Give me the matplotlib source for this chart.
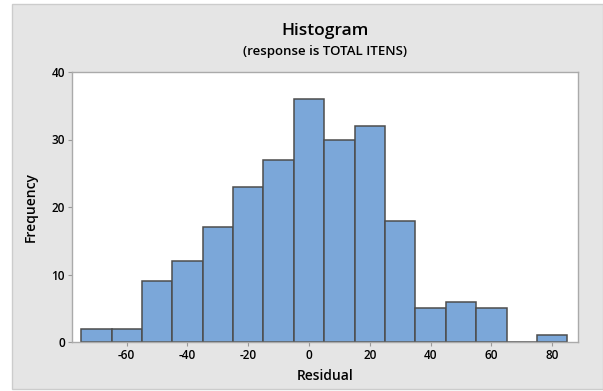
import numpy as np
import matplotlib.pyplot as plt
from matplotlib.patches import Rectangle

plt.rcParams['font.family'] = ['Open Sans', 'DejaVu Sans']
plt.rcParams['axes.unicode_minus'] = False

# bin centres (width 10) and counts
centres = [-70, -60, -50, -40, -30, -20, -10, 0, 10, 20, 30, 40, 50, 60, 70, 80]
counts = [2, 2, 9, 12, 17, 23, 27, 36, 30, 32, 18, 5, 6, 5, 0, 1]
xticks = [-60, -40, -20, 0, 20, 40, 60, 80]
yticks = [0, 10, 20, 30, 40]

fig = plt.figure(figsize=(6.03, 3.91), dpi=100)
fig.patch.set_facecolor('white')
W, H = 603, 391
fig.patches.append(Rectangle((12 / W, 1 - 389 / H), 1 - 12 / W, (389 - 4) / H,
                             transform=fig.transFigure, facecolor='#e5e5e5',
                             edgecolor='#cccccc', linewidth=1, zorder=-5))

ax = fig.add_axes([72 / W, 1 - 342 / H, (578 - 72) / W, (342 - 72) / H])
ax.set_zorder(1)
ax.set_facecolor('white')
ax.bar(centres, counts, width=10, color='#7ba7d9', edgecolor='#4d4d4d', linewidth=1.1)

ax.set_xlim(-78, 88.5)
ax.set_ylim(0, 40)
ax.set_xticks(xticks)
ax.set_yticks(yticks)
ax.tick_params(labelsize=8.5, length=3, width=0.8, color='#999999', pad=2)
for lab in ax.get_xticklabels() + ax.get_yticklabels():
    lab.set_fontweight('semibold')
for s in ax.spines.values():
    s.set_color('#aaaaaa')
    s.set_linewidth(1)

ax.set_xlabel('Residual', fontsize=10, fontweight='semibold', labelpad=5)
ax.set_ylabel('Frequency', fontsize=10, fontweight='semibold', labelpad=10)

fig.text((72 + 578) / 2 / W, 1 - 31 / H, 'Histogram', ha='center', va='center',
         fontsize=12.5, fontweight='semibold')
fig.text((72 + 578) / 2 / W, 1 - 51 / H, '(response is TOTAL ITENS)', ha='center',
         va='center', fontsize=9.5, fontweight='semibold')

fig.savefig('out.png', dpi=100)
